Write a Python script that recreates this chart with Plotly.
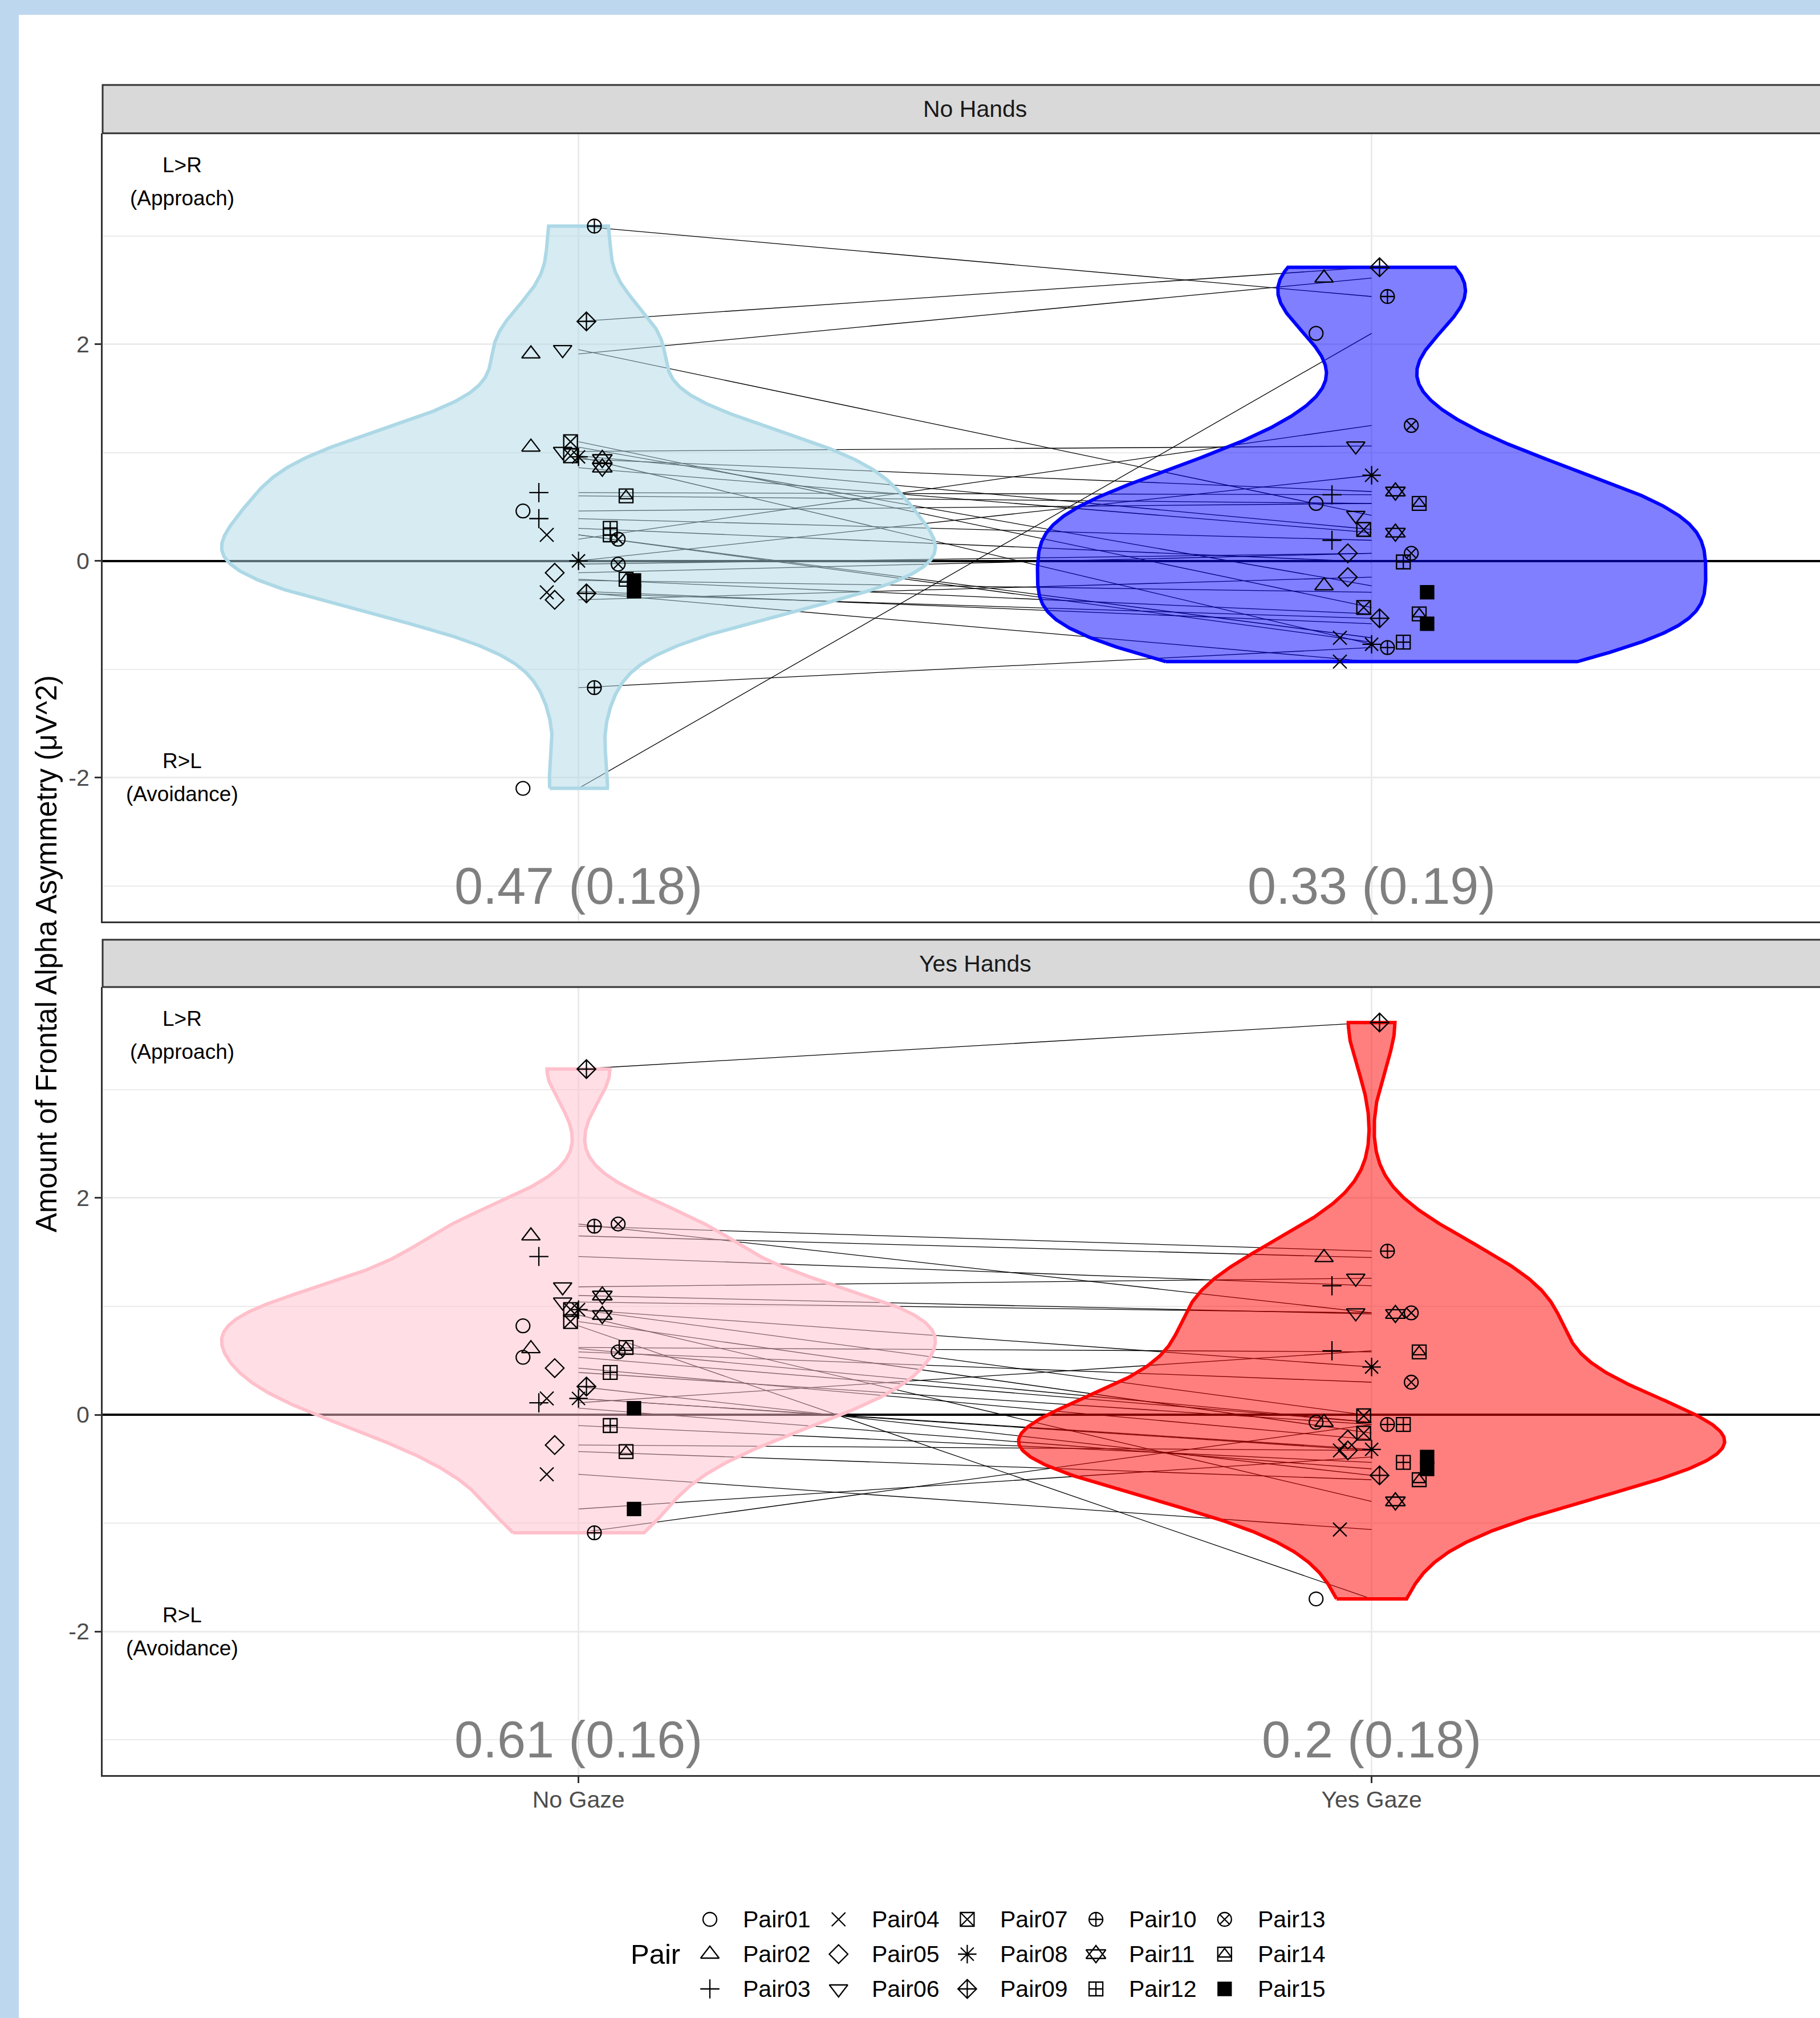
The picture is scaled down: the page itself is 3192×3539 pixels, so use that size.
import numpy as np
import plotly.graph_objects as go

# ---------------- data ----------------
pairs = ["Pair01", "Pair02", "Pair03", "Pair04", "Pair05", "Pair06", "Pair07", "Pair08",
         "Pair09", "Pair10", "Pair11", "Pair12", "Pair13", "Pair14", "Pair15"]
conditions = ["No Gaze", "Yes Gaze"]
facets = ["No Hands", "Yes Hands"]
y_tick_vals = [-2, 0, 2]
y_tick_text = ["-2", "0", "2"]
y_minor_vals = [-3, -1, 1, 3]

# each entry = (subject 1, subject 2) of a pair; subject k is linked across conditions
nohands_nogaze = [(0.46, -2.10), (1.91, 1.05), (0.63, 0.39), (0.24, -0.29), (-0.11, -0.36),
                  (1.95, 1.01), (1.10, 0.97), (0.96, 0.00), (2.21, -0.30), (3.09, -1.17),
                  (0.94, 0.86), (0.30, 0.24), (0.20, -0.03), (0.60, -0.17), (-0.18, -0.28)]
nohands_yesgaze = [(0.53, 2.10), (2.61, -0.23), (0.61, 0.19), (-0.71, -0.93), (0.07, -0.15),
                   (0.42, 1.06), (-0.43, 0.29), (-0.77, 0.79), (2.71, -0.53), (2.44, -0.80),
                   (0.64, 0.26), (-0.01, -0.75), (1.25, 0.07), (0.53, -0.49), (-0.29, -0.58)]
yeshands_nogaze = [(0.82, 0.53), (1.65, 0.61), (1.46, 0.11), (0.15, -0.55), (0.43, -0.28),
                   (1.18, 1.04), (0.97, 0.86), (0.97, 0.15), (3.19, 0.26), (1.74, -1.09),
                   (1.10, 0.92), (0.39, -0.10), (1.76, 0.58), (0.62, -0.34), (0.06, -0.87)]
yeshands_yesgaze = [(-1.70, -0.07), (1.45, -0.07), (1.19, 0.59), (-0.33, -1.06), (-0.23, -0.33),
                    (1.26, 0.94), (-0.01, -0.17), (0.44, -0.32), (3.62, -0.56), (1.51, -0.09),
                    (0.93, -0.80), (-0.09, -0.44), (0.94, 0.30), (0.58, -0.60), (-0.50, -0.39)]

mean_labels = [["0.47 (0.18)", "0.33 (0.19)"], ["0.61 (0.16)", "0.2 (0.18)"]]
direction_labels = [("L>R", "(Approach)"), ("R>L", "(Avoidance)")]
direction_y = [3.5, -2.0]
mean_label_y = -3.0

# ---------------- styles ----------------
W, H = 3192, 3539
FONT = "Liberation Sans, Arial, Helvetica, sans-serif"
PLOT_L = 180
X_UNIT = 1391.0
x_range = [0.4, 0.4 + (W - PLOT_L) / X_UNIT]
y_range = [-3.326, 3.947]
panel_top = [233.7, 1731.0]
panel_bot = [1615.5, 3113.0]
strip_top = [149.0, 1648.0]
violin_fill = [["rgba(173,216,230,0.5)", "rgba(0,0,255,0.5)"],
               ["rgba(255,192,203,0.5)", "rgba(255,0,0,0.5)"]]
violin_line = [["#ADD8E6", "#0000FF"], ["#FFC0CB", "#FF0000"]]
# each shape = one or more stacked plotly symbols (to mimic R pch 0-15 glyphs)
marker_specs = [[("circle-open", 24)], [("triangle-up-open", 28)], [("cross-thin-open", 24)],
                [("x-thin-open", 24)], [("diamond-open", 25)], [("triangle-down-open", 28)],
                [("square-x-open", 24)], [("asterisk-open", 27)], [("diamond-cross-open", 25)],
                [("circle-cross-open", 24)],
                [("triangle-up-open", 30), ("triangle-down-open", 30)],
                [("square-cross-open", 24)], [("circle-x-open", 24)],
                [("square-open", 24), ("triangle-up-open", 20)], [("square", 23)]]
DODGE = 0.15
MARKER_LW = 2.3


def pxx(x):
    return x / W


def pxy(y):
    return 1 - y / H


def nrd0(v):
    v = np.asarray(v, float)
    sd = v.std(ddof=1)
    q75, q25 = np.percentile(v, [75, 25])
    lo = min(sd, (q75 - q25) / 1.34)
    if lo <= 0:
        lo = sd if sd > 0 else 1.0
    return 0.9 * lo * len(v) ** -0.2


def kde(v, n=512):
    v = np.asarray(v, float)
    bw = nrd0(v)
    grid = np.linspace(v.min(), v.max(), n)
    z = (grid[:, None] - v[None, :]) / bw
    d = np.exp(-0.5 * z ** 2).sum(axis=1) / (len(v) * bw * np.sqrt(2 * np.pi))
    return grid, d


panel_data = [[nohands_nogaze, nohands_yesgaze], [yeshands_nogaze, yeshands_yesgaze]]

fig = go.Figure()


def add_markers(x, y, spec, xa, ya, name=None):
    for sym, size in spec:
        fig.add_trace(go.Scatter(x=x, y=y, mode="markers", xaxis=xa, yaxis=ya,
                                 marker=dict(symbol=sym, size=size, color="black",
                                             line=dict(color="black", width=MARKER_LW)),
                                 showlegend=False, name=name, hoverinfo="skip"))


for p in range(2):
    xa = "x" if p == 0 else "x2"
    ya = "y" if p == 0 else "y2"
    ng, yg = panel_data[p]
    # connecting lines (subject across conditions)
    lx, ly = [], []
    for i in range(len(pairs)):
        for s in range(2):
            lx += [1, 2, None]
            ly += [ng[i][s], yg[i][s], None]
    fig.add_trace(go.Scatter(x=lx, y=ly, mode="lines", xaxis=xa, yaxis=ya,
                             line=dict(color="black", width=1.3), showlegend=False,
                             hoverinfo="skip"))
    # violins (ggplot-like: nrd0 bw, trimmed, area scaling within panel)
    dens = []
    for c in range(2):
        vals = [v for pr in panel_data[p][c] for v in pr]
        dens.append(kde(vals))
    maxd = max(d.max() for _, d in dens)
    for c in range(2):
        grid, d = dens[c]
        hw = 0.45 * d / maxd
        center = c + 1
        vx = np.concatenate([center - hw, (center + hw)[::-1], [center - hw[0]]])
        vy = np.concatenate([grid, grid[::-1], [grid[0]]])
        fig.add_trace(go.Scatter(x=vx, y=vy, mode="lines", fill="toself",
                                 fillcolor=violin_fill[p][c],
                                 line=dict(color=violin_line[p][c], width=6),
                                 xaxis=xa, yaxis=ya, showlegend=False, hoverinfo="skip"))
    # points, dodged by pair
    n = len(pairs)
    for i, name in enumerate(pairs):
        off = DODGE * (i - (n - 1) / 2) / n
        px_, py_ = [], []
        for c in range(2):
            for s in range(2):
                px_.append(c + 1 + off)
                py_.append(panel_data[p][c][i][s])
        add_markers(px_, py_, marker_specs[i], xa, ya, name)

# ---------------- manual legend ----------------
leg_x0, leg_dx = 1245, 225.7
leg_y0, leg_dy = 3366, 61
annotations = []
for i, name in enumerate(pairs):
    col, row = i // 3, i % 3
    cx = leg_x0 + col * leg_dx
    cy = leg_y0 + row * leg_dy
    add_markers([cx], [cy], marker_specs[i], "x3", "y3", name)
    annotations.append(dict(x=pxx(cx + 56), y=pxy(cy), xref="paper", yref="paper",
                            text=name, showarrow=False, xanchor="left", yanchor="middle",
                            font=dict(size=41, color="black", family=FONT)))
annotations.append(dict(x=pxx(1104), y=pxy(leg_y0 + leg_dy), xref="paper", yref="paper",
                        text="Pair", showarrow=False, xanchor="left", yanchor="middle",
                        font=dict(size=49, color="black", family=FONT)))

# ---------------- shapes ----------------
shapes = [dict(type="rect", xref="paper", yref="paper", x0=pxx(33), x1=1.02,
               y0=-0.02, y1=pxy(26), fillcolor="white", line=dict(width=0), layer="below")]
for p in range(2):
    shapes.append(dict(type="rect", xref="paper", yref="paper", x0=pxx(PLOT_L), x1=1.02,
                       y0=pxy(panel_top[p]), y1=pxy(strip_top[p]), fillcolor="#D9D9D9",
                       line=dict(color="#333333", width=3), layer="above"))

# ---------------- annotations ----------------
for p in range(2):
    xa = "x" if p == 0 else "x2"
    ya = "y" if p == 0 else "y2"
    annotations.append(dict(x=1.5, xref=xa, y=pxy((panel_top[p] + strip_top[p]) / 2),
                            yref="paper", text=facets[p], showarrow=False,
                            xanchor="center", yanchor="middle",
                            font=dict(size=41, color="#1A1A1A", family=FONT)))
    for k in range(2):
        top, bot = direction_labels[k]
        annotations.append(dict(x=0.5, xref=xa, y=direction_y[k], yref=ya, text=top,
                                showarrow=False, yshift=29, xanchor="center", yanchor="middle",
                                font=dict(size=37, color="black", family=FONT)))
        annotations.append(dict(x=0.5, xref=xa, y=direction_y[k], yref=ya, text=bot,
                                showarrow=False, yshift=-29, xanchor="center", yanchor="middle",
                                font=dict(size=37, color="black", family=FONT)))
    for c in range(2):
        annotations.append(dict(x=c + 1, xref=xa, y=mean_label_y, yref=ya,
                                text=mean_labels[p][c], showarrow=False,
                                xanchor="center", yanchor="middle",
                                font=dict(size=90, color="#7F7F7F", family=FONT)))
annotations.append(dict(x=pxx(81), y=pxy((panel_top[0] + panel_bot[1]) / 2), xref="paper",
                        yref="paper", text="Amount of Frontal Alpha Asymmetry (μV^2)",
                        textangle=-90, showarrow=False, xanchor="center", yanchor="middle",
                        font=dict(size=51, color="black", family=FONT)))

# ---------------- axes ----------------
def xaxis_cfg(show_labels, anchor):
    return dict(domain=[pxx(PLOT_L), 1], range=x_range, anchor=anchor,
                tickmode="array", tickvals=[1, 2], ticktext=conditions,
                showticklabels=show_labels, ticks="outside" if show_labels else "",
                ticklen=11, tickwidth=3, tickcolor="#333333", ticklabelstandoff=-6,
                tickfont=dict(size=41, color="#4D4D4D", family=FONT),
                showgrid=True, gridcolor="#EBEBEB", gridwidth=3.4, zeroline=False,
                showline=True, linecolor="#333333", linewidth=3, mirror=False)


def yaxis_cfg(p, anchor):
    return dict(domain=[pxy(panel_bot[p]), pxy(panel_top[p])], range=y_range, anchor=anchor,
                tickmode="array", tickvals=y_tick_vals, ticktext=y_tick_text,
                ticks="outside", ticklen=11, tickwidth=3, tickcolor="#333333",
                ticklabelstandoff=1,
                tickfont=dict(size=41, color="#4D4D4D", family=FONT),
                showgrid=True, gridcolor="#EBEBEB", gridwidth=3.4,
                zeroline=True, zerolinecolor="black", zerolinewidth=4,
                minor=dict(tickmode="array", tickvals=y_minor_vals, showgrid=True,
                           gridcolor="#EBEBEB", gridwidth=1.7, ticks=""),
                showline=True, linecolor="#333333", linewidth=3, mirror=False)


fig.update_layout(
    template="none",
    width=W, height=H,
    margin=dict(l=0, r=0, t=0, b=0, autoexpand=False),
    paper_bgcolor="#BDD7EE", plot_bgcolor="rgba(0,0,0,0)",
    font=dict(family=FONT, color="black"),
    showlegend=False,
    xaxis=xaxis_cfg(False, "y"),
    yaxis=yaxis_cfg(0, "x"),
    xaxis2=xaxis_cfg(True, "y2"),
    yaxis2=yaxis_cfg(1, "x2"),
    xaxis3=dict(domain=[0, 1], range=[0, W], anchor="y3", visible=False,
                showgrid=False, zeroline=False),
    yaxis3=dict(domain=[0, 1], range=[H, 0], anchor="x3", visible=False,
                showgrid=False, zeroline=False),
    shapes=shapes,
    annotations=annotations,
)

fig.write_html("out.html", config={"displayModeBar": False},
               post_script="document.body.style.margin='0px';")
